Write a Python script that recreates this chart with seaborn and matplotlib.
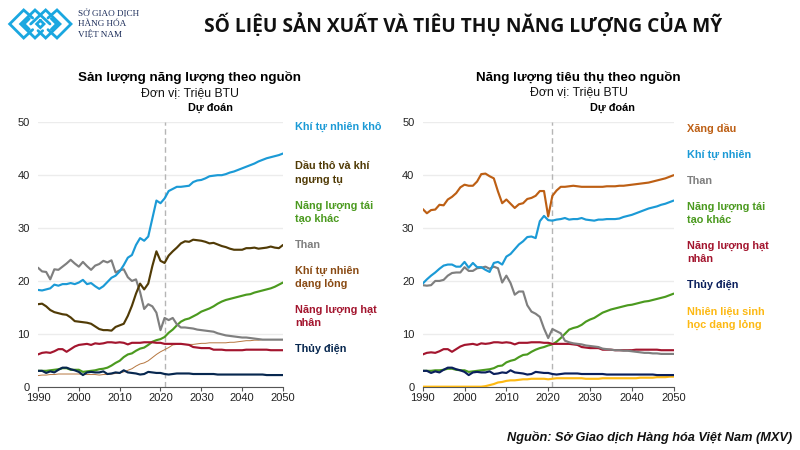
import matplotlib
matplotlib.use('Agg')
import matplotlib.pyplot as plt
from matplotlib.lines import Line2D
import numpy as np
import pandas as pd
import seaborn as sns

years = list(range(1990, 2051))

# ---- san luong (left panel), one row per decade
prod_gas = [18.3, 18.2, 18.4, 18.6, 19.3, 19.1, 19.4, 19.4, 19.6, 19.4,
            19.7, 20.2, 19.4, 19.6, 19.0, 18.5, 19.0, 19.8, 20.6, 21.0,
            21.8, 23.0, 24.4, 24.9, 26.8, 28.1, 27.6, 28.4, 31.8, 35.2,
            34.7, 35.6, 37.0, 37.4, 37.8, 37.8, 37.9, 38.0, 38.7, 39.0,
            39.1, 39.4, 39.8, 39.9, 40.0, 40.0, 40.2, 40.5, 40.7, 41.0,
            41.3, 41.6, 41.9, 42.2, 42.6, 42.9, 43.2, 43.4, 43.6, 43.8,
            44.1]
prod_crude = [15.6, 15.7, 15.2, 14.5, 14.1, 13.9, 13.7, 13.6, 13.1, 12.4,
              12.3, 12.2, 12.1, 11.9, 11.4, 10.9, 10.7, 10.7, 10.6, 11.3,
              11.6, 11.9, 13.4, 15.3, 17.6, 19.5, 18.4, 19.5, 22.8, 25.6,
              23.8, 23.4, 24.8, 25.6, 26.3, 27.1, 27.5, 27.4, 27.8, 27.7,
              27.6, 27.4, 27.1, 27.2, 26.9, 26.6, 26.4, 26.1, 25.9, 25.9,
              25.9, 26.2, 26.2, 26.3, 26.1, 26.2, 26.3, 26.5, 26.3, 26.2,
              26.8]
prod_renew = [3.0, 3.0, 3.0, 3.1, 3.2, 3.3, 3.5, 3.5, 3.2, 3.2,
              3.2, 2.8, 2.9, 3.0, 3.1, 3.3, 3.4, 3.6, 4.0, 4.5,
              4.9, 5.6, 6.1, 6.3, 6.8, 7.2, 7.4, 7.9, 8.5, 8.8,
              9.0, 9.4, 10.2, 10.8, 11.6, 12.3, 12.7, 12.9, 13.3, 13.7,
              14.2, 14.5, 14.8, 15.2, 15.7, 16.1, 16.4, 16.6, 16.8, 17.0,
              17.2, 17.4, 17.5, 17.8, 18.0, 18.2, 18.4, 18.6, 18.9, 19.3,
              19.7]
prod_coal = [22.5, 21.8, 21.7, 20.3, 22.2, 22.1, 22.7, 23.3, 24.0, 23.3,
             22.7, 23.6, 22.8, 22.1, 22.9, 23.2, 23.8, 23.5, 23.9, 21.6,
             22.0, 22.2, 20.7, 20.0, 20.3, 17.9, 14.7, 15.6, 15.2, 14.0,
             10.7, 13.0, 12.6, 13.0, 11.8, 11.2, 11.2, 11.1, 11.0, 10.8,
             10.7, 10.6, 10.5, 10.4, 10.1, 9.9, 9.7, 9.6, 9.5, 9.4,
             9.3, 9.3, 9.2, 9.1, 9.0, 8.9, 8.9, 8.9, 8.9, 8.9,
             8.9]
prod_ngpl = [2.1, 2.2, 2.2, 2.3, 2.3, 2.4, 2.4, 2.4, 2.4, 2.4,
             2.4, 2.3, 2.3, 2.3, 2.3, 2.2, 2.3, 2.3, 2.4, 2.5,
             2.6, 2.8, 3.1, 3.4, 3.9, 4.3, 4.5, 4.9, 5.5, 6.1,
             6.6, 7.0, 7.4, 7.9, 8.0, 8.0, 8.0, 8.0, 8.0, 8.1,
             8.2, 8.2, 8.3, 8.3, 8.3, 8.3, 8.3, 8.4, 8.4, 8.5,
             8.6, 8.7, 8.7, 8.8, 8.8, 8.9, 8.9, 8.9, 8.9, 8.9,
             8.9]
prod_nuclear = [6.1, 6.4, 6.5, 6.4, 6.7, 7.1, 7.1, 6.6, 7.1, 7.6,
                7.9, 8.0, 8.1, 7.9, 8.2, 8.1, 8.2, 8.4, 8.4, 8.3,
                8.4, 8.3, 8.0, 8.3, 8.3, 8.3, 8.4, 8.4, 8.4, 8.3,
                8.3, 8.1, 8.1, 8.1, 8.1, 8.1, 8.0, 7.9, 7.5, 7.4,
                7.3, 7.3, 7.3, 7.0, 7.0, 7.0, 6.9, 6.9, 6.9, 6.9,
                6.9, 7.0, 7.0, 7.0, 7.0, 7.0, 7.0, 6.9, 6.9, 6.9,
                6.9]
prod_hydro = [3.0, 3.0, 2.6, 2.9, 2.7, 3.2, 3.6, 3.6, 3.3, 3.1,
              2.8, 2.2, 2.7, 2.8, 2.7, 2.7, 2.9, 2.4, 2.5, 2.7,
              2.6, 3.1, 2.7, 2.6, 2.5, 2.3, 2.4, 2.8, 2.7, 2.6,
              2.6, 2.4, 2.3, 2.4, 2.5, 2.5, 2.5, 2.5, 2.4, 2.4,
              2.4, 2.4, 2.4, 2.4, 2.3, 2.3, 2.3, 2.3, 2.3, 2.3,
              2.3, 2.3, 2.3, 2.3, 2.3, 2.3, 2.2, 2.2, 2.2, 2.2,
              2.2]

# ---- tieu thu (right panel)
cons_oil = [33.6, 32.8, 33.4, 33.5, 34.4, 34.3, 35.4, 35.9, 36.6, 37.7,
            38.2, 38.0, 38.0, 38.8, 40.2, 40.3, 39.8, 39.4, 36.9, 34.7,
            35.4, 34.6, 33.8, 34.5, 34.7, 35.5, 35.7, 36.1, 37.0, 37.0,
            32.2, 36.1, 37.1, 37.8, 37.8, 37.9, 38.0, 37.9, 37.8, 37.8,
            37.8, 37.8, 37.8, 37.8, 37.9, 37.9, 37.9, 38.0, 38.0, 38.1,
            38.2, 38.3, 38.4, 38.5, 38.6, 38.8, 39.0, 39.2, 39.4, 39.7,
            40.0]
cons_gas = [19.5, 20.3, 21.0, 21.6, 22.3, 22.9, 23.1, 23.1, 22.7, 22.7,
            23.6, 22.5, 23.4, 22.6, 22.6, 22.1, 21.7, 23.4, 23.6, 23.1,
            24.6, 25.1, 26.0, 26.9, 27.5, 28.3, 28.4, 28.1, 31.3, 32.3,
            31.5, 31.4, 31.6, 31.7, 31.9, 31.6, 31.7, 31.7, 31.9, 31.6,
            31.5, 31.4, 31.6, 31.6, 31.7, 31.7, 31.7, 31.8, 32.1, 32.3,
            32.5, 32.8, 33.1, 33.4, 33.7, 33.9, 34.1, 34.4, 34.6, 34.9,
            35.2]
cons_coal = [19.2, 19.1, 19.2, 20.0, 20.0, 20.2, 21.0, 21.5, 21.6, 21.6,
             22.6, 21.9, 21.9, 22.4, 22.5, 22.7, 22.3, 22.7, 22.4, 19.7,
             21.0, 19.6, 17.4, 18.0, 18.0, 15.4, 14.2, 13.8, 13.2, 11.0,
             9.2, 10.9, 10.5, 10.1, 8.7, 8.4, 8.2, 8.1, 8.0, 7.8,
             7.7, 7.6, 7.5, 7.2, 7.1, 7.0, 6.9, 6.9, 6.8, 6.8,
             6.7, 6.6, 6.5, 6.4, 6.4, 6.3, 6.3, 6.2, 6.2, 6.2,
             6.2]
cons_renew = [3.0, 3.0, 3.0, 3.1, 3.1, 3.2, 3.4, 3.4, 3.2, 3.1,
              3.1, 2.8, 2.9, 3.0, 3.1, 3.2, 3.3, 3.5, 3.9, 4.0,
              4.6, 4.9, 5.1, 5.6, 6.0, 6.1, 6.6, 7.0, 7.3, 7.5,
              7.8, 8.0, 8.5, 9.2, 10.0, 10.8, 11.1, 11.3, 11.7, 12.3,
              12.7, 13.0, 13.5, 14.0, 14.3, 14.6, 14.8, 15.0, 15.2, 15.4,
              15.5, 15.7, 15.9, 16.1, 16.2, 16.4, 16.6, 16.8, 17.0, 17.3,
              17.6]
cons_nuclear = [6.1, 6.4, 6.5, 6.4, 6.7, 7.1, 7.1, 6.6, 7.1, 7.6,
                7.9, 8.0, 8.1, 7.9, 8.2, 8.1, 8.2, 8.4, 8.4, 8.3,
                8.4, 8.3, 8.0, 8.3, 8.3, 8.3, 8.4, 8.4, 8.4, 8.3,
                8.3, 8.1, 8.1, 8.1, 8.1, 8.1, 8.0, 7.9, 7.5, 7.4,
                7.3, 7.3, 7.3, 7.0, 7.0, 7.0, 6.9, 6.9, 6.9, 6.9,
                6.9, 7.0, 7.0, 7.0, 7.0, 7.0, 7.0, 6.9, 6.9, 6.9,
                6.9]
cons_hydro = [3.0, 3.0, 2.6, 2.9, 2.7, 3.2, 3.6, 3.6, 3.3, 3.1,
              2.8, 2.2, 2.7, 2.8, 2.7, 2.7, 2.9, 2.4, 2.5, 2.7,
              2.6, 3.1, 2.7, 2.6, 2.5, 2.3, 2.4, 2.8, 2.7, 2.6,
              2.6, 2.4, 2.3, 2.4, 2.5, 2.5, 2.5, 2.5, 2.4, 2.4,
              2.4, 2.4, 2.4, 2.4, 2.3, 2.3, 2.3, 2.3, 2.3, 2.3,
              2.3, 2.3, 2.3, 2.3, 2.3, 2.3, 2.2, 2.2, 2.2, 2.2,
              2.2]
cons_bio = [0.0, 0.0, 0.0, 0.0, 0.0, 0.0, 0.0, 0.0, 0.0, 0.0,
            0.0, 0.0, 0.0, 0.0, 0.0, 0.1, 0.3, 0.5, 0.8, 0.9,
            1.1, 1.2, 1.2, 1.3, 1.4, 1.4, 1.5, 1.5, 1.5, 1.5,
            1.4, 1.5, 1.6, 1.6, 1.6, 1.6, 1.6, 1.6, 1.6, 1.5,
            1.5, 1.5, 1.5, 1.6, 1.6, 1.6, 1.6, 1.6, 1.6, 1.6,
            1.6, 1.6, 1.7, 1.7, 1.7, 1.7, 1.8, 1.8, 1.8, 1.9,
            1.9]

BLUE = '#1b9ad6'
BROWN = '#513b06'
GREEN = '#4b9a1f'
GRAY = '#7f7f7f'
TAN = '#b5763f'
RED = '#a3152e'
NAVY = '#07274f'
ORANGE = '#bd5f14'
YELLOW = '#fdb913'

LW = 1.55
left_series = [(prod_ngpl, TAN, 0.7), (prod_renew, GREEN, LW), (prod_hydro, NAVY, LW),
               (prod_nuclear, RED, LW), (prod_coal, GRAY, LW), (prod_crude, BROWN, LW),
               (prod_gas, BLUE, LW)]
right_series = [(cons_bio, YELLOW, LW), (cons_renew, GREEN, LW), (cons_hydro, '#0a1f5c', LW),
                (cons_nuclear, RED, LW), (cons_coal, GRAY, LW), (cons_gas, BLUE, LW),
                (cons_oil, ORANGE, LW)]

left_labels = [('Khí tự nhiên khô', 127, BLUE), ('Dầu thô và khí\nngưng tụ', 173, BROWN),
               ('Năng lượng tái\ntạo khác', 212.5, GREEN), ('Than', 245, GRAY),
               ('Khí tự nhiên\ndạng lỏng', 277.5, '#8a4b14'), ('Năng lượng hạt\nnhân', 316.5, RED),
               ('Thủy điện', 349, NAVY)]
right_labels = [('Xăng dầu', 129, ORANGE), ('Khí tự nhiên', 155, BLUE), ('Than', 181, GRAY),
                ('Năng lượng tái\ntạo khác', 213.5, GREEN), ('Năng lượng hạt\nnhân', 252.5, RED),
                ('Thủy điện', 285, '#0a1f5c'), ('Nhiên liệu sinh\nhọc dạng lỏng', 318.5, YELLOW)]

sns.set_theme(style='white')
plt.rcParams['font.family'] = ['Liberation Sans', 'DejaVu Sans']

W, H = 800, 450
fig = plt.figure(figsize=(8, 4.5), dpi=100, facecolor='white')


def px_axes(x0, x1, y_top, y_bot):
    return fig.add_axes([x0 / W, 1 - y_bot / H, (x1 - x0) / W, (y_bot - y_top) / H])


def fig_text(x, y, s, **kw):
    fig.text(x / W, 1 - y / H, s, **kw)


def draw_panel(ax, series):
    for values, color, lw in series:
        df = pd.DataFrame({'year': years, 'value': values})
        sns.lineplot(data=df, x='year', y='value', color=color, linewidth=lw, ax=ax,
                     errorbar=None, zorder=3)
    ax.axvline(2021, color='#b5b5b5', linestyle=(0, (4, 2.5)), linewidth=1, zorder=2)
    ax.set_xlim(1990, 2050)
    ax.set_ylim(0, 50)
    ax.set_xticks(range(1990, 2051, 10))
    ax.set_yticks(range(0, 51, 10))
    ax.set_xlabel('')
    ax.set_ylabel('')
    ax.grid(axis='y', color='#ececec', linewidth=1)
    ax.set_axisbelow(True)
    sns.despine(ax=ax, left=True)
    ax.spines['bottom'].set_color('#555555')
    ax.spines['bottom'].set_linewidth(0.8)
    ax.tick_params(axis='x', length=3, width=0.8, color='#555555', labelsize=8, pad=1.5,
                   bottom=True, labelcolor='#222222')
    ax.tick_params(axis='y', length=0, labelsize=8, pad=6, labelcolor='#222222')


ax1 = px_axes(38, 283, 122.3, 386.7)
ax2 = px_axes(422.7, 673.7, 122.3, 386.7)
draw_panel(ax1, left_series)
draw_panel(ax2, right_series)

for text, y, color in left_labels:
    fig_text(295, y, text, fontsize=7.8, fontweight='bold', color=color, va='center',
             linespacing=1.45)
for text, y, color in right_labels:
    fig_text(687, y, text, fontsize=7.8, fontweight='bold', color=color, va='center',
             linespacing=1.45)

# tieu de
fig_text(463.5, 25, 'SỐ LIỆU SẢN XUẤT VÀ TIÊU THỤ NĂNG LƯỢNG CỦA MỸ', family='Open Sans',
         fontsize=13.8, fontweight='bold', color='#111111', ha='center', va='center')
fig_text(190, 78, 'Sản lượng năng lượng theo nguồn', fontsize=9.65, fontweight='bold',
         color='black', ha='center', va='center')
fig_text(190, 93.5, 'Đơn vị: Triệu BTU', fontsize=8.8, color='#111111', ha='center', va='center')
fig_text(210, 107.5, 'Dự đoán', fontsize=7.8, fontweight='bold', color='black', ha='center',
         va='center')
fig_text(578, 77, 'Năng lượng tiêu thụ theo nguồn', fontsize=9.65, fontweight='bold',
         color='black', ha='center', va='center')
fig_text(579, 92.5, 'Đơn vị: Triệu BTU', fontsize=8.8, color='#111111', ha='center', va='center')
fig_text(612, 107.5, 'Dự đoán', fontsize=7.8, fontweight='bold', color='black', ha='center',
         va='center')
fig_text(792, 438, 'Nguồn: Sở Giao dịch Hàng hóa Việt Nam (MXV)', fontsize=9.15,
         fontweight='bold', fontstyle='italic', color='#111111', ha='right', va='center')

# logo: interlocked spirals and a small diamond, traced at 3x
LOGO = '#1aa7e0'
logo_paths = [
    [(98, 54), (71, 30), (29, 72), (71, 114), (98, 89)],
    [(150, 72), (105, 30), (62, 72), (105, 114), (128, 92)],
    [(144, 54), (171, 30), (213, 72), (171, 114), (144, 89)],
    [(92, 72), (137, 30), (180, 72), (137, 114), (114, 92)],
    [(72, 72), (88, 56)],
    [(170, 72), (154, 56)],
    [(72, 72), (88, 88)],
    [(170, 72), (154, 88)],
    [(121, 61), (110, 72), (121, 83), (132, 72), (121, 61)],
]
for path in logo_paths:
    pts = np.array(path) / 3
    fig.add_artist(Line2D(pts[:, 0] / W, 1 - pts[:, 1] / H, color=LOGO, linewidth=2.0,
                          solid_joinstyle='miter'))
fig_text(78, 14, 'SỞ GIAO DỊCH', family='Liberation Serif', fontsize=6.6, color='#1c2d5a',
         va='center')
fig_text(78, 24.5, 'HÀNG HÓA', family='Liberation Serif', fontsize=6.6, color='#1c2d5a',
         va='center')
fig_text(78, 35, 'VIỆT NAM', family='Liberation Serif', fontsize=6.6, color='#1c2d5a',
         va='center')

fig.savefig('out.png', dpi=100)
